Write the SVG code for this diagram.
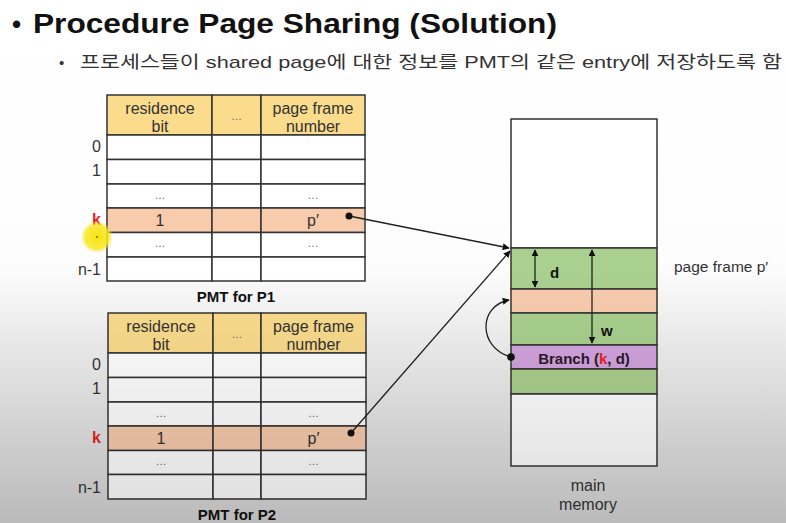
<svg xmlns="http://www.w3.org/2000/svg" width="786" height="523" viewBox="0 0 786 523">
<defs>
<linearGradient id="bg" x1="0" y1="0" x2="0" y2="1">
<stop offset="0" stop-color="#ffffff"/>
<stop offset="0.5" stop-color="#fdfdfd"/>
<stop offset="1" stop-color="#d6d6d6"/>
</linearGradient>
<linearGradient id="shade" x1="0" y1="0" x2="0" y2="1">
<stop offset="0" stop-color="#000" stop-opacity="0"/>
<stop offset="0.52" stop-color="#000" stop-opacity="0"/>
<stop offset="1" stop-color="#000" stop-opacity="0.13"/>
</linearGradient>
<radialGradient id="cursor">
<stop offset="0" stop-color="#f6e400" stop-opacity="0.95"/>
<stop offset="0.75" stop-color="#f8e820" stop-opacity="0.85"/>
<stop offset="1" stop-color="#f8e820" stop-opacity="0"/>
</radialGradient>
<marker id="ah" viewBox="0 0 10 10" refX="9" refY="5" markerWidth="7" markerHeight="7" orient="auto-start-reverse" markerUnits="userSpaceOnUse">
<path d="M0,0 L10,5 L0,10 z" fill="#111"/>
</marker>
</defs>
<style>
.cell{fill:#ffffff;stroke:#333;stroke-width:1.5}
.hdr{fill:#fadc8c;stroke:#333;stroke-width:1.5}
.krow{fill:#f8cbad;stroke:#333;stroke-width:1.5}
.t{font-family:"Liberation Sans",Arial,sans-serif;font-size:16px;fill:#333;text-anchor:middle}
.lbl{font-family:"Liberation Sans",Arial,sans-serif;font-size:16px;fill:#333;text-anchor:end}
.red{fill:#e8231f;font-weight:bold}
.dots{font-family:"Liberation Sans",Arial,sans-serif;font-size:11px;fill:#666;text-anchor:middle}
.cap{font-family:"Liberation Sans",Arial,sans-serif;font-size:15px;font-weight:bold;fill:#111;text-anchor:middle}
.ln{stroke:#222;stroke-width:1.3;fill:none}
.green{fill:#a9d08e;stroke:#333;stroke-width:1.5}
.peach{fill:#f8cbad;stroke:#333;stroke-width:1.5}
.purple{fill:#d3a3de;stroke:#333;stroke-width:1.5}
.white{fill:#ffffff;stroke:#333;stroke-width:1.5}
</style>
<rect x="0" y="0" width="786" height="523" fill="url(#bg)"/>

<g id="title">
<text x="12" y="33" font-family="'Liberation Sans',Arial,sans-serif" font-size="26" font-weight="bold" fill="#111">•</text>
<text x="33" y="33" font-family="'Liberation Sans',Arial,sans-serif" font-size="27" font-weight="bold" fill="#111" textLength="524" lengthAdjust="spacingAndGlyphs">Procedure Page Sharing (Solution)</text>
<text x="59" y="68" font-family="'Liberation Sans',Arial,sans-serif" font-size="15" fill="#333">•</text>
<text x="80" y="68" font-family="'Liberation Sans','Noto Sans CJK KR',sans-serif" font-size="17" fill="#333" textLength="702" lengthAdjust="spacingAndGlyphs">프로세스들이 shared page에 대한 정보를 PMT의 같은 entry에 저장하도록 함</text>
</g>

<g id="pmt-p1">
<rect class="hdr" x="107" y="95" width="105" height="40"/>
<rect class="hdr" x="212" y="95" width="49" height="40"/>
<rect class="hdr" x="261" y="95" width="104" height="40"/>
<text class="t" x="160" y="114">residence</text>
<text class="t" x="160" y="132">bit</text>
<text class="dots" x="236.5" y="120">…</text>
<text class="t" x="313" y="114">page frame</text>
<text class="t" x="313" y="132">number</text>
<g>
<rect class="cell" x="107" y="135" width="105" height="24.5"/><rect class="cell" x="212" y="135" width="49" height="24.5"/><rect class="cell" x="261" y="135" width="104" height="24.5"/>
<rect class="cell" x="107" y="159.5" width="105" height="24.5"/><rect class="cell" x="212" y="159.5" width="49" height="24.5"/><rect class="cell" x="261" y="159.5" width="104" height="24.5"/>
<rect class="cell" x="107" y="184" width="105" height="24"/><rect class="cell" x="212" y="184" width="49" height="24"/><rect class="cell" x="261" y="184" width="104" height="24"/>
<rect class="krow" x="107" y="208" width="105" height="24.5"/><rect class="krow" x="212" y="208" width="49" height="24.5"/><rect class="krow" x="261" y="208" width="104" height="24.5"/>
<rect class="cell" x="107" y="232.5" width="105" height="24.5"/><rect class="cell" x="212" y="232.5" width="49" height="24.5"/><rect class="cell" x="261" y="232.5" width="104" height="24.5"/>
<rect class="cell" x="107" y="257" width="105" height="24"/><rect class="cell" x="212" y="257" width="49" height="24"/><rect class="cell" x="261" y="257" width="104" height="24"/>
</g>
<text class="dots" x="160" y="199">…</text>
<text class="dots" x="313" y="199">…</text>
<text class="t" x="160" y="226">1</text>
<text class="t" x="313" y="226">p′</text>
<text class="dots" x="160" y="247">…</text>
<text class="dots" x="313" y="247">…</text>
<text class="lbl" x="101" y="152">0</text>
<text class="lbl" x="101" y="176">1</text>
<text class="lbl red" x="101" y="225">k</text>
<text class="lbl" x="101" y="275">n-1</text>
<text class="cap" x="236" y="302">PMT for P1</text>
</g>

<g id="pmt-p2">
<rect class="hdr" x="108" y="313" width="105" height="40"/>
<rect class="hdr" x="213" y="313" width="48" height="40"/>
<rect class="hdr" x="261" y="313" width="105" height="40"/>
<text class="t" x="161" y="332">residence</text>
<text class="t" x="161" y="350">bit</text>
<text class="dots" x="237" y="338">…</text>
<text class="t" x="313.5" y="332">page frame</text>
<text class="t" x="313.5" y="350">number</text>
<g>
<rect class="cell" x="108" y="353" width="105" height="24.5"/><rect class="cell" x="213" y="353" width="48" height="24.5"/><rect class="cell" x="261" y="353" width="105" height="24.5"/>
<rect class="cell" x="108" y="377.5" width="105" height="24.5"/><rect class="cell" x="213" y="377.5" width="48" height="24.5"/><rect class="cell" x="261" y="377.5" width="105" height="24.5"/>
<rect class="cell" x="108" y="402" width="105" height="24"/><rect class="cell" x="213" y="402" width="48" height="24"/><rect class="cell" x="261" y="402" width="105" height="24"/>
<rect class="krow" x="108" y="426" width="105" height="24.5"/><rect class="krow" x="213" y="426" width="48" height="24.5"/><rect class="krow" x="261" y="426" width="105" height="24.5"/>
<rect class="cell" x="108" y="450.5" width="105" height="24"/><rect class="cell" x="213" y="450.5" width="48" height="24"/><rect class="cell" x="261" y="450.5" width="105" height="24"/>
<rect class="cell" x="108" y="474.5" width="105" height="24.5"/><rect class="cell" x="213" y="474.5" width="48" height="24.5"/><rect class="cell" x="261" y="474.5" width="105" height="24.5"/>
</g>
<text class="dots" x="161" y="417">…</text>
<text class="dots" x="313.5" y="417">…</text>
<text class="t" x="161" y="444">1</text>
<text class="t" x="313.5" y="444">p′</text>
<text class="dots" x="161" y="465">…</text>
<text class="dots" x="313.5" y="465">…</text>
<text class="lbl" x="101" y="370">0</text>
<text class="lbl" x="101" y="394">1</text>
<text class="lbl red" x="101" y="443">k</text>
<text class="lbl" x="101" y="493">n-1</text>
<text class="cap" x="237" y="520">PMT for P2</text>
</g>

<g id="main-memory">
<rect class="white" x="511" y="119" width="146" height="129"/>
<rect class="green" x="511" y="248" width="146" height="41"/>
<rect class="peach" x="511" y="289" width="146" height="24"/>
<rect class="green" x="511" y="313" width="146" height="32"/>
<rect class="purple" x="511" y="345" width="146" height="24"/>
<rect class="green" x="511" y="369" width="146" height="25"/>
<rect class="white" x="511" y="394" width="146" height="72"/>
<text x="584" y="364" font-family="'Liberation Sans',Arial,sans-serif" font-size="15" font-weight="bold" fill="#2a1a2a" text-anchor="middle">Branch (<tspan fill="#e8231f">k</tspan>, d)</text>
<text x="550" y="278" font-family="'Liberation Sans',Arial,sans-serif" font-size="15" font-weight="bold" fill="#111">d</text>
<text x="601" y="336" font-family="'Liberation Sans',Arial,sans-serif" font-size="15" font-weight="bold" fill="#111">w</text>
<text class="t" x="588" y="491">main</text>
<text class="t" x="588" y="510">memory</text>
<text x="674" y="272" font-family="'Liberation Sans',Arial,sans-serif" font-size="15.5" fill="#333">page frame p′</text>
</g>

<g id="connectors">
<line class="ln" x1="535" y1="250" x2="535" y2="287" marker-start="url(#ah)" marker-end="url(#ah)"/>
<line class="ln" x1="592" y1="250" x2="592" y2="343" marker-start="url(#ah)" marker-end="url(#ah)"/>
<line class="ln" x1="349" y1="216" x2="509" y2="248" marker-end="url(#ah)"/>
<circle cx="349" cy="216" r="3.5" fill="#111"/>
<line class="ln" x1="351" y1="433" x2="510" y2="251" marker-end="url(#ah)"/>
<circle cx="351" cy="433" r="3.5" fill="#111"/>
<path class="ln" d="M511,357 C478,348 478,306 509,300" marker-end="url(#ah)"/>
<circle cx="511" cy="357" r="3.8" fill="#111"/>
</g>

<rect x="0" y="0" width="786" height="523" fill="url(#shade)" pointer-events="none"/>
<g id="cursor-highlight">
<circle cx="97" cy="237" r="16" fill="url(#cursor)"/>
<circle cx="97" cy="237" r="1" fill="#b05000"/>
</g>
</svg>
